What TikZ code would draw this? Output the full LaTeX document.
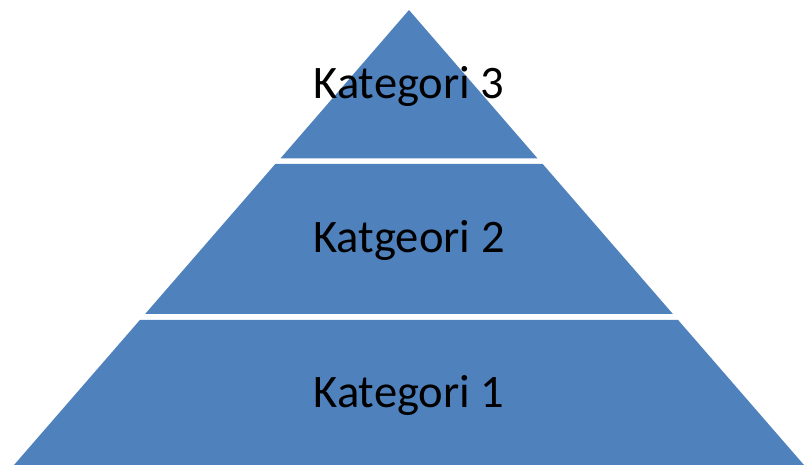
\documentclass[tikz,border=0pt]{standalone}
\usepackage{fontspec}
\setmainfont{Carlito}
\definecolor{pyrblue}{HTML}{4F81BD}
\tikzset{
  band/.style={fill=pyrblue},
  lbl/.style={anchor=base,font=\fontsize{46.6}{50}\selectfont}
}
\begin{document}
\begin{tikzpicture}[x=1pt,y=-1pt]
      \useasboundingbox (0,0) rectangle (804,465);
      \fill[band] (409,10)    -- (537.6,158.5) -- (280.4,158.5) -- cycle;               % top
      \fill[band] (275.3,164) -- (542.7,164)   -- (672.9,314)   -- (145.1,314) -- cycle; % middle
      \fill[band] (139.9,320) -- (678.1,320)   -- (804,465)     -- (14,465)    -- cycle; % bottom

      \node[lbl] (kat3) at (409,99)  {Kategori 3};
      \node[lbl] (kat2) at (409,253) {Katgeori 2};
      \node[lbl] (kat1) at (409,407) {Kategori 1};
    \end{tikzpicture}
\end{document}
